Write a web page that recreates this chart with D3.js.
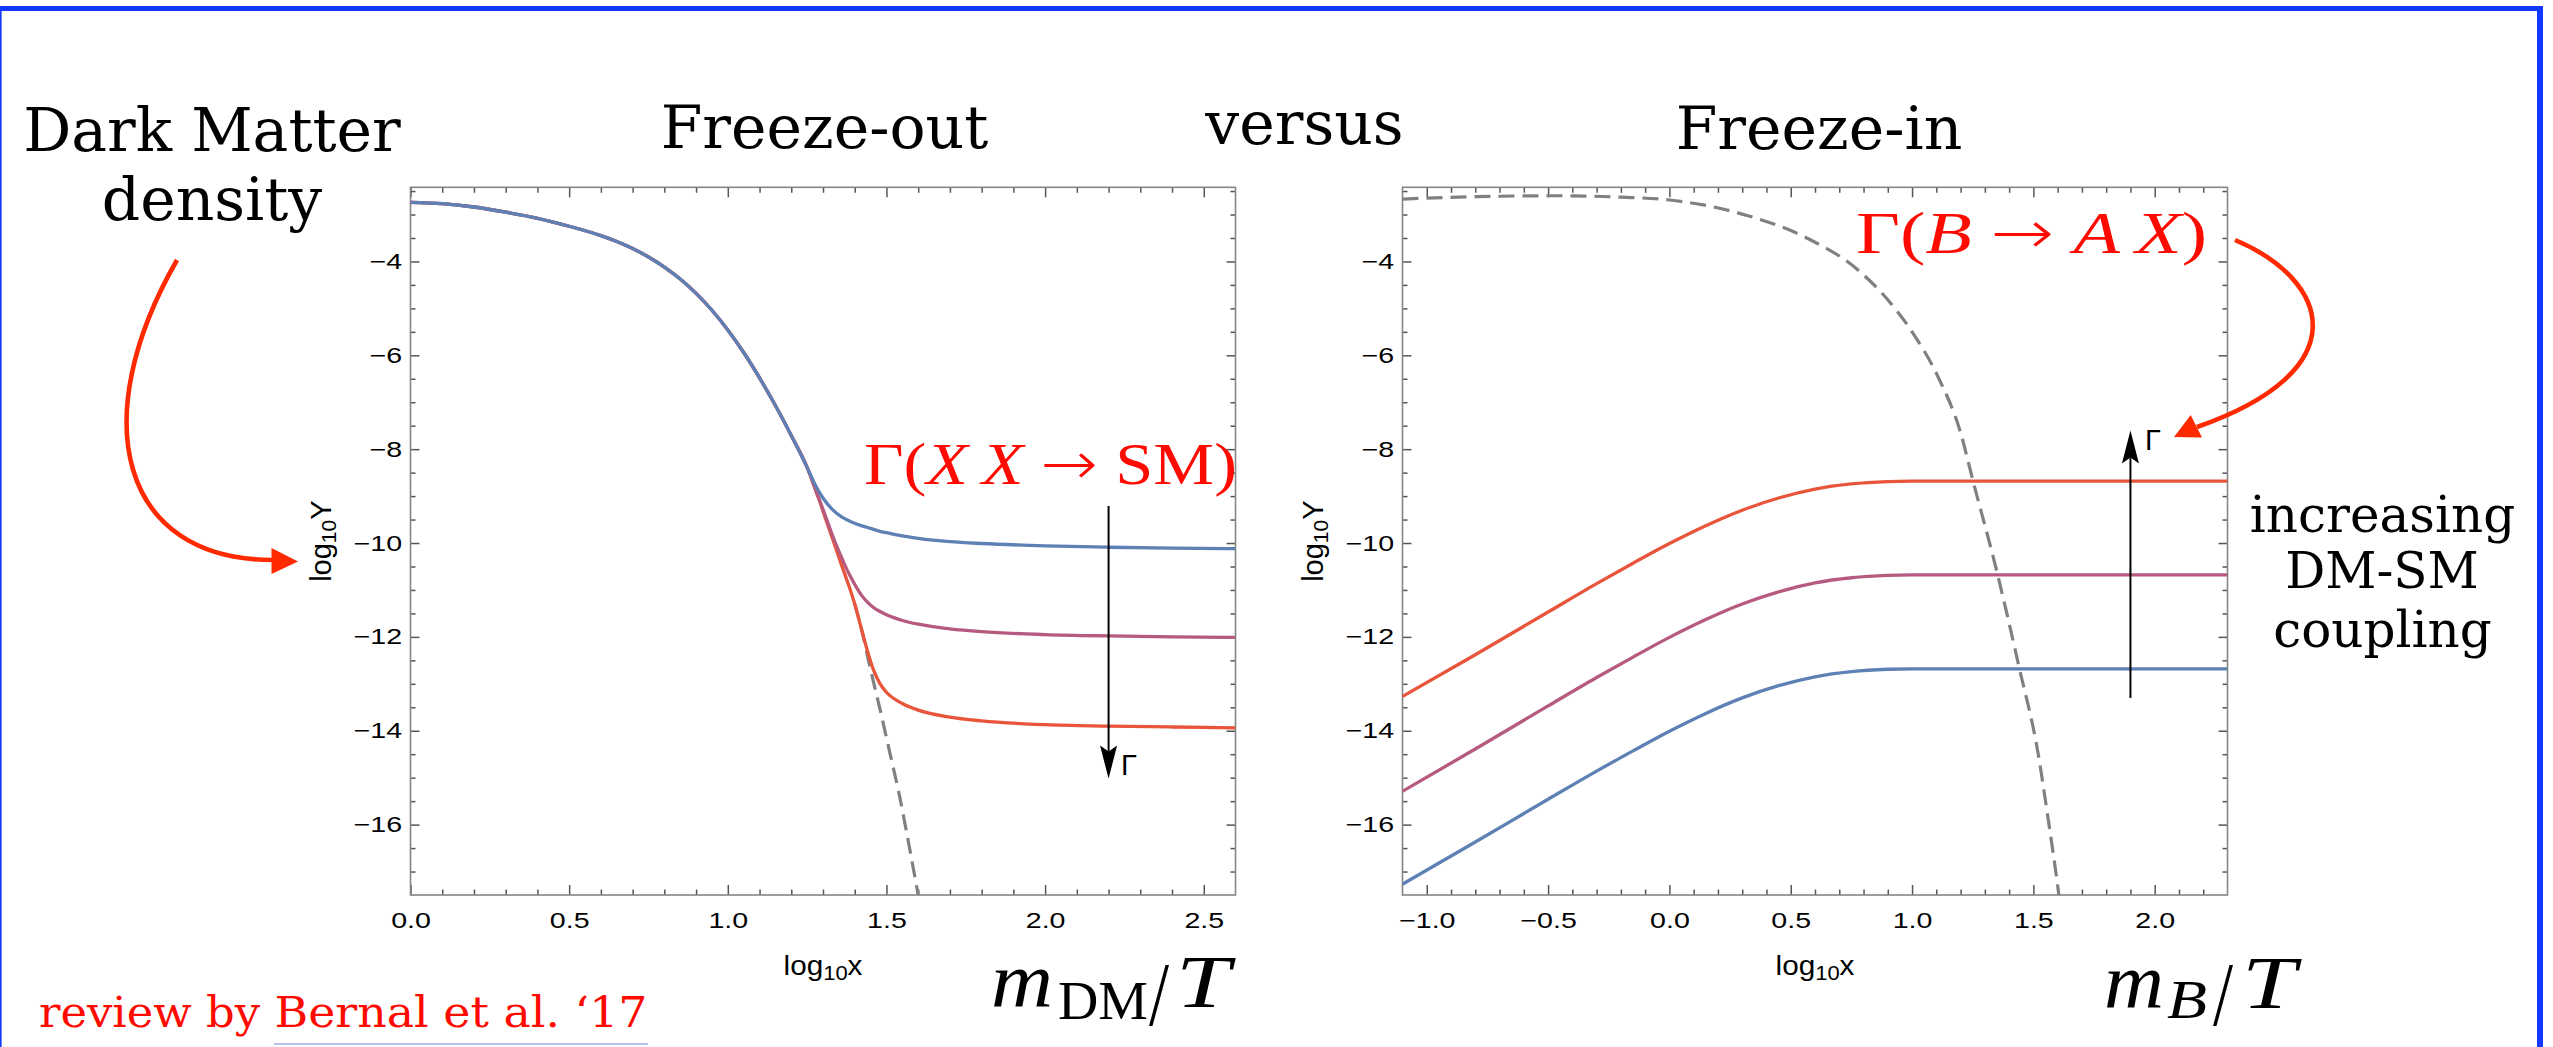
<!DOCTYPE html>
<html>
<head>
<meta charset="utf-8">
<script src="https://cdn.jsdelivr.net/npm/d3@7"></script>
<style>
  html, body { margin: 0; padding: 0; background: #fff; }
  svg { display: block; }
</style>
</head>
<body>
<svg id="chart" width="2553" height="1047"></svg>
<script>
/* Freeze-out versus freeze-in: log10 Y against log10 x, two Mathematica-style panels */

// ---- Data ----
const yDomain = [-17.5, -2.42];
const yMajor = [-16, -14, -12, -10, -8, -6, -4];

// freeze-out panel
const foXDomain = [0, 2.6];
const foXMajor = [0.0, 0.5, 1.0, 1.5, 2.0, 2.5];
const foX = [0, 0.1, 0.2, 0.3, 0.4, 0.5, 0.6, 0.65, 0.7, 0.75, 0.8, 0.85, 0.9, 0.95, 1.0, 1.05, 1.1, 1.15, 1.2, 1.25,
  1.28, 1.3, 1.33, 1.36, 1.38, 1.4, 1.42, 1.44, 1.46, 1.48, 1.5, 1.55, 1.6, 1.7, 1.8, 2.0, 2.2, 2.4, 2.6];
const foBlue = [-2.74, -2.77, -2.84, -2.95, -3.08, -3.25, -3.45, -3.575, -3.725, -3.905, -4.12, -4.375, -4.68, -5.04, -5.46, -5.94, -6.48, -7.07, -7.71, -8.39,
  -8.82, -9.04, -9.29, -9.45, -9.52, -9.58, -9.63, -9.67, -9.71, -9.75, -9.78, -9.85, -9.9, -9.97, -10.01, -10.06, -10.09, -10.11, -10.12];
const foPurple = [-2.74, -2.77, -2.84, -2.95, -3.08, -3.25, -3.45, -3.575, -3.725, -3.905, -4.12, -4.375, -4.68, -5.04, -5.46, -5.94, -6.48, -7.07, -7.71, -8.39,
  -8.93, -9.28, -9.84, -10.33, -10.63, -10.88, -11.1, -11.26, -11.38, -11.46, -11.53, -11.65, -11.73, -11.83, -11.89, -11.95, -11.98, -12.0, -12.01];
const foRed = [-2.74, -2.77, -2.84, -2.95, -3.08, -3.25, -3.45, -3.575, -3.725, -3.905, -4.12, -4.375, -4.68, -5.04, -5.46, -5.94, -6.48, -7.07, -7.71, -8.39,
  -8.93, -9.32, -9.91, -10.5, -10.88, -11.3, -11.8, -12.3, -12.72, -13.0, -13.18, -13.42, -13.56, -13.71, -13.79, -13.87, -13.9, -13.92, -13.94];
const foEqX = [1.40, 1.42, 1.45, 1.48, 1.51, 1.54, 1.57, 1.60];
const foEqY = [-11.3, -11.8, -12.7, -13.55, -14.45, -15.35, -16.4, -17.5];
const foArrow = { x: 2.2, from: -9.21, to: -15.02 };

// freeze-in panel
const fiXDomain = [-1.1, 2.3];
const fiXMajor = [-1.0, -0.5, 0.0, 0.5, 1.0, 1.5, 2.0];
const fiX = [-1.1, -0.8, -0.5, -0.3, -0.15, 0.0, 0.15, 0.3, 0.45, 0.6, 0.75, 0.9, 1.0, 1.5, 2.3];
const fiRed = [-13.27, -12.38, -11.47, -10.865, -10.43, -10.01, -9.63, -9.30, -9.04, -8.85, -8.74, -8.69, -8.68, -8.68, -8.68];
const fiPurple = [-15.29, -14.39, -13.47, -12.865, -12.43, -12.01, -11.63, -11.30, -11.04, -10.85, -10.74, -10.69, -10.68, -10.68, -10.68];
const fiBlue = [-17.27, -16.37, -15.46, -14.86, -14.43, -14.01, -13.63, -13.30, -13.04, -12.85, -12.74, -12.69, -12.68, -12.68, -12.68];
const fiEqX = [-1.1, -0.8, -0.47, -0.2, 0.0, 0.32, 0.57, 0.77, 0.88, 1.0, 1.11, 1.2, 1.25, 1.35, 1.44, 1.52, 1.56, 1.60, 1.61];
const fiEqY = [-2.67, -2.62, -2.60, -2.63, -2.69, -3.02, -3.51, -4.15, -4.70, -5.50, -6.49, -7.65, -8.65, -10.62, -12.62, -14.5, -15.85, -17.3, -17.7];
const fiArrow = { x: 1.9, from: -13.3, to: -7.6 };

// ---- Styles ----
const C = { blue: '#5e81b5', purple: '#b65a80', red: '#e8553a', eq: '#808080',
  frame: '#858585', tick: '#555', note: '#ff2a00', tex: '#ff0a00', border: '#1238ff' };
const plotTop = 187.3, plotBottom = 895, plotW = 825;
const SERIF = '"DejaVu Serif", serif';
const TEX = '"Liberation Serif", "Times New Roman", serif';
const SANS = '"Liberation Sans", Arial, sans-serif';

const svg = d3.select('#chart');
const defs = svg.append('defs');

// ---- Slide border ----
svg.append('rect').attr('x', 0).attr('y', 6).attr('width', 2543).attr('height', 5).attr('fill', C.border);
svg.append('rect').attr('x', 0).attr('y', 6).attr('width', 1.6).attr('height', 1041).attr('fill', C.border);
svg.append('rect').attr('x', 2537).attr('y', 6).attr('width', 6).attr('height', 1041).attr('fill', C.border);

// ---- Panels ----
function drawPanel(o) {
  const x = d3.scaleLinear().domain(o.xDomain).range([o.left, o.left + plotW]);
  const y = d3.scaleLinear().domain(yDomain).range([plotBottom, plotTop]);
  const g = svg.append('g').attr('class', 'panel');

  defs.append('clipPath').attr('id', o.id + 'Clip')
    .append('rect').attr('x', o.left).attr('y', plotTop).attr('width', plotW).attr('height', plotBottom - plotTop);

  const isMajor = v => Math.abs(v * 2 - Math.round(v * 2)) < 1e-6;
  const xMinor = d3.range(o.xDomain[0], o.xDomain[1], 0.1)
    .filter(v => v > o.xDomain[0] + 1e-6 && v < o.xDomain[1] - 1e-6 && !isMajor(v));
  const yMinor = d3.range(-17, -2.4, 0.5).filter(v => v % 2 !== 0);

  const addAxis = (axis, tr) => g.append('g').attr('class', 'ax').attr('transform', tr)
    .call(axis).call(a => a.select('.domain').remove());

  const bx = `translate(0,${plotBottom})`, tx = `translate(0,${plotTop})`;
  const lx = `translate(${o.left},0)`, rx = `translate(${o.left + plotW},0)`;
  addAxis(d3.axisBottom(x).tickValues(o.xMajor).tickSize(-10).tickPadding(17).tickFormat(d3.format('.1f')), bx);
  addAxis(d3.axisBottom(x).tickValues(xMinor).tickSize(-5.5).tickFormat(''), bx);
  addAxis(d3.axisTop(x).tickValues(o.xMajor).tickSize(-10).tickFormat(''), tx);
  addAxis(d3.axisTop(x).tickValues(xMinor).tickSize(-5.5).tickFormat(''), tx);
  addAxis(d3.axisLeft(y).tickValues(yMajor).tickSize(-9).tickPadding(6.5).tickFormat(d3.format('d')), lx);
  addAxis(d3.axisLeft(y).tickValues(yMinor).tickSize(-5).tickFormat(''), lx);
  addAxis(d3.axisRight(y).tickValues(yMajor).tickSize(-9).tickFormat(''), rx);
  addAxis(d3.axisRight(y).tickValues(yMinor).tickSize(-5).tickFormat(''), rx);

  g.selectAll('.ax line').attr('stroke', C.tick).attr('stroke-width', 1.5);
  g.selectAll('.ax text')
    .attr('font-family', SANS).attr('font-size', 22).attr('fill', '#000')
    .attr('transform', 'scale(1.3,1)');

  // frame
  g.append('rect').attr('x', o.left).attr('y', plotTop)
    .attr('width', plotW).attr('height', plotBottom - plotTop)
    .attr('fill', 'none').attr('stroke', C.frame).attr('stroke-width', 1.6);

  // curves
  const line = d3.line().x(d => x(d[0])).y(d => y(d[1])).curve(d3.curveMonotoneX);
  const plot = g.append('g').attr('clip-path', `url(#${o.id}Clip)`);
  plot.append('path').datum(d3.zip(o.eqX, o.eqY)).attr('d', line)
    .attr('fill', 'none').attr('stroke', C.eq).attr('stroke-width', 3.2).attr('stroke-dasharray', '16 8');
  o.series.forEach(s => {
    plot.append('path').datum(d3.zip(o.xs, s.values)).attr('d', line)
      .attr('fill', 'none').attr('stroke', s.color).attr('stroke-width', 3.3)
      .attr('stroke-linejoin', 'round');
  });

  // black Γ arrow
  const ax = x(o.arrow.x), y0 = y(o.arrow.from), y1 = y(o.arrow.to);
  const dir = y1 > y0 ? 1 : -1, L = 33, W = 8.5, N = 27;
  g.append('line').attr('x1', ax).attr('x2', ax).attr('y1', y0).attr('y2', y1 - dir * N)
    .attr('stroke', '#000').attr('stroke-width', 2);
  g.append('path')
    .attr('d', `M${ax},${y1} L${ax - W},${y1 - dir * L} L${ax},${y1 - dir * N} L${ax + W},${y1 - dir * L} Z`)
    .attr('fill', '#000');
  g.append('text').attr('x', o.gammaPos[0]).attr('y', o.gammaPos[1])
    .attr('font-family', SANS).attr('font-size', 29).text('Γ');

  // axis labels
  const xl = g.append('text')
    .attr('transform', `translate(${o.left + plotW / 2},975) scale(1.1,1)`)
    .attr('text-anchor', 'middle').attr('font-family', SANS).attr('font-size', 27);
  xl.append('tspan').text('log');
  xl.append('tspan').attr('font-size', 20).attr('dy', 5).text('10');
  xl.append('tspan').attr('dy', -5).text('x');

  const yl = g.append('text')
    .attr('transform', `translate(${o.left - 80},${(plotTop + plotBottom) / 2}) rotate(-90)`)
    .attr('text-anchor', 'middle').attr('font-family', SANS).attr('font-size', 29);
  yl.append('tspan').text('log');
  yl.append('tspan').attr('font-size', 21).attr('dy', 5).text('10');
  yl.append('tspan').attr('dy', -5).text('Y');
}

drawPanel({
  id: 'fo', left: 410.5, xDomain: foXDomain, xMajor: foXMajor, xs: foX,
  series: [
    { values: foRed, color: C.red },
    { values: foPurple, color: C.purple },
    { values: foBlue, color: C.blue }
  ],
  eqX: foEqX, eqY: foEqY, arrow: foArrow, gammaPos: [1121, 775]
});

drawPanel({
  id: 'fi', left: 1402.5, xDomain: fiXDomain, xMajor: fiXMajor, xs: fiX,
  series: [
    { values: fiRed, color: C.red },
    { values: fiPurple, color: C.purple },
    { values: fiBlue, color: C.blue }
  ],
  eqX: fiEqX, eqY: fiEqY, arrow: fiArrow, gammaPos: [2145, 450]
});

// ---- Slide text ----
function serifText(x, y, str, size, anchor, color, len) {
  const t = svg.append('text').attr('x', x).attr('y', y)
    .attr('text-anchor', anchor || 'middle').attr('font-family', SERIF)
    .attr('font-size', size).attr('fill', color || '#000').text(str);
  if (len) t.attr('textLength', len).attr('lengthAdjust', 'spacingAndGlyphs');
  return t;
}
serifText(212, 151, 'Dark Matter', 60);
serifText(212, 220, 'density', 60);
serifText(824.5, 147.5, 'Freeze-out', 60);
serifText(1304.5, 144, 'versus', 60);
serifText(1819, 148.5, 'Freeze-in', 60);
serifText(2382.5, 531.5, 'increasing', 50);
serifText(2382, 588, 'DM-SM', 50);
serifText(2382.5, 646.5, 'coupling', 50);
serifText(39, 1027, 'review by', 43, 'start', C.tex, 221);
serifText(274.5, 1027, 'Bernal et al. ‘17', 43, 'start', C.tex, 373);
svg.append('line').attr('x1', 274).attr('x2', 648).attr('y1', 1044).attr('y2', 1044)
  .attr('stroke', '#b9c0f4').attr('stroke-width', 2.2);

// ---- LaTeX-style labels ----
const ARROW_FONT = '"DejaVu Sans", sans-serif';
function texLabel(x, y, parts, size, len, color) {
  const t = svg.append('text').attr('x', x).attr('y', y)
    .attr('font-family', TEX).attr('font-size', size).attr('fill', color || '#000')
    .attr('textLength', len).attr('lengthAdjust', 'spacingAndGlyphs')
    .attr('xml:space', 'preserve');
  parts.forEach(p => {
    const s = t.append('tspan').attr('font-style', p[1] ? 'italic' : 'normal').text(p[0]);
    if (p[2]) s.attr('font-family', p[2]).attr('font-weight', 200);
  });
  return t;
}
texLabel(864, 483.5, [['Γ('], ['X', 1], ['\u2009'], ['X', 1], [' '], ['→', 0, ARROW_FONT], [' SM)']], 60, 373, C.tex);
texLabel(1856, 253, [['Γ('], ['B', 1], [' '], ['→', 0, ARROW_FONT], [' '], ['A', 1], ['\u2009'], ['X', 1], [')']], 60, 351, C.tex);

function part(x, y, str, size, len, italic) {
  svg.append('text').attr('x', x).attr('y', y).attr('font-family', TEX)
    .attr('font-size', size).attr('font-style', italic ? 'italic' : 'normal')
    .attr('textLength', len).attr('lengthAdjust', 'spacingAndGlyphs').text(str);
}
// m_DM / T
part(991, 1007, 'm', 78, 62, true);
part(1058, 1018.5, 'DM', 55, 90);
part(1149, 1025, '/', 92, 20, false);
part(1176, 1007, 'T', 74, 54, true);
// m_B / T
part(2104, 1008, 'm', 78, 60, true);
part(2167, 1018, 'B', 55, 40, true);
part(2213, 1025, '/', 92, 20, false);
part(2242, 1008, 'T', 74, 54, true);

// ---- Red curved arrows ----
svg.append('path').attr('d', 'M177,260 C85,420 120,560 273,560')
  .attr('fill', 'none').attr('stroke', C.note).attr('stroke-width', 4.6);
svg.append('path').attr('d', 'M271.5,548 L298,561.6 L271.5,574 Z').attr('fill', C.note);

svg.append('path').attr('d', 'M2235,240 C2330,280 2360,370 2197,427')
  .attr('fill', 'none').attr('stroke', C.note).attr('stroke-width', 4.6);
svg.append('path').attr('d', 'M2190.7,415 L2174,437 L2202,437.5 Z').attr('fill', C.note);
</script>
</body>
</html>
